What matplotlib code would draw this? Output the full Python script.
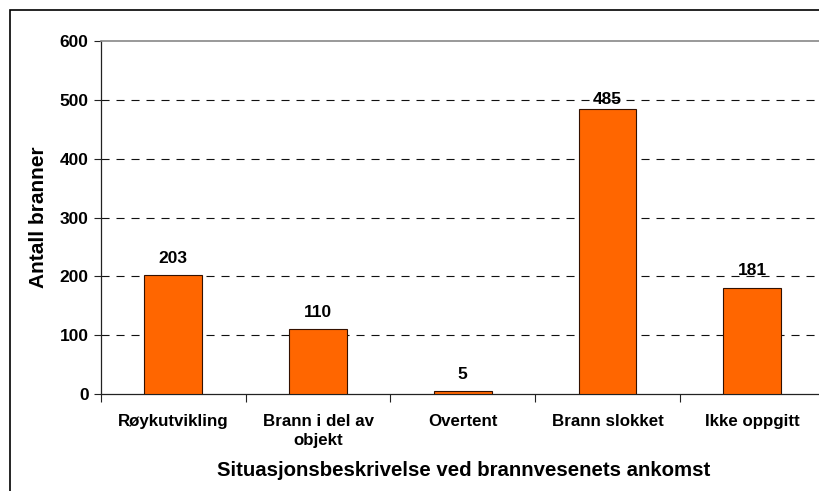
import matplotlib
matplotlib.use("Agg")
import matplotlib.pyplot as plt
from matplotlib.patches import Rectangle

plt.rcParams['font.family'] = ['Liberation Sans', 'DejaVu Sans']
plt.rcParams['lines.scale_dashes'] = False

categories = ["Røykutvikling", "Brann i del av\nobjekt", "Overtent", "Brann slokket", "Ikke oppgitt"]
values = [203, 110, 5, 485, 181]
yticks = [0, 100, 200, 300, 400, 500, 600]
ylabel = "Antall branner"
xlabel = "Situasjonsbeskrivelse ved brannvesenets ankomst"

W, H = 819, 491
fig = plt.figure(figsize=(W / 100, H / 100), dpi=100)

left, right, top, bottom = 101, 824.5, 41, 394
ax = fig.add_axes([left / W, 1 - bottom / H, (right - left) / W, (bottom - top) / H])

x = list(range(len(categories)))
bars = ax.bar(x, values, width=0.4, color="#FF6600", edgecolor="#331100", linewidth=0.8, zorder=3)
ax.set_xlim(-0.5, len(categories) - 0.5)
ax.set_ylim(0, 600)
ax.set_yticks(yticks)
ax.set_yticklabels([str(t) for t in yticks], fontsize=12.5, fontweight='bold')
ax.set_xticks([i + 0.5 for i in range(-1, len(categories))], minor=False)
ax.set_xticklabels([])
ax.set_xticks(x, minor=True)
ax.set_xticklabels(categories, minor=True, fontsize=12.2, fontweight='bold', linespacing=1.35)
ax.tick_params(axis='x', which='minor', length=0, pad=14.5)
ax.tick_params(axis='x', which='major', length=6, width=0.8, direction='out', color='#222222')
ax.tick_params(axis='y', length=5, width=0.8, direction='out', pad=4, color='#222222')

for yv in yticks[1:-1]:
    ax.axhline(yv, color='#111111', linewidth=0.8, linestyle=(0, (5.8, 5)), zorder=1)

ax.spines['right'].set_visible(False)
ax.spines['top'].set_color('#888888')
ax.spines['top'].set_linewidth(1.2)
ax.spines['left'].set_color('#222222')
ax.spines['left'].set_linewidth(0.9)
ax.spines['bottom'].set_color('#222222')
ax.spines['bottom'].set_linewidth(0.9)

for xi, v in zip(x, values):
    off = 1 if v > 450 else 6.5
    ax.annotate(str(v), (xi, v), xytext=(0, off), textcoords='offset points',
                ha='center', va='bottom', fontsize=12.5, fontweight='bold', zorder=4)

ax.set_ylabel(ylabel, fontsize=15, fontweight='bold')
ax.yaxis.set_label_coords(-(101 - 38) / (right - left), 0.5)
ax.yaxis.label.set_va('center')
fig.text(463.5 / W, 1 - 471 / H, xlabel, ha='center', va='center',
         fontsize=14.7, fontweight='bold')

fig.patches.append(Rectangle((10 / W, -0.1), 1.2, 1 - 10 / H + 0.1, transform=fig.transFigure,
                             fill=False, edgecolor='black', linewidth=1.2))

fig.savefig("out.png", dpi=100)
